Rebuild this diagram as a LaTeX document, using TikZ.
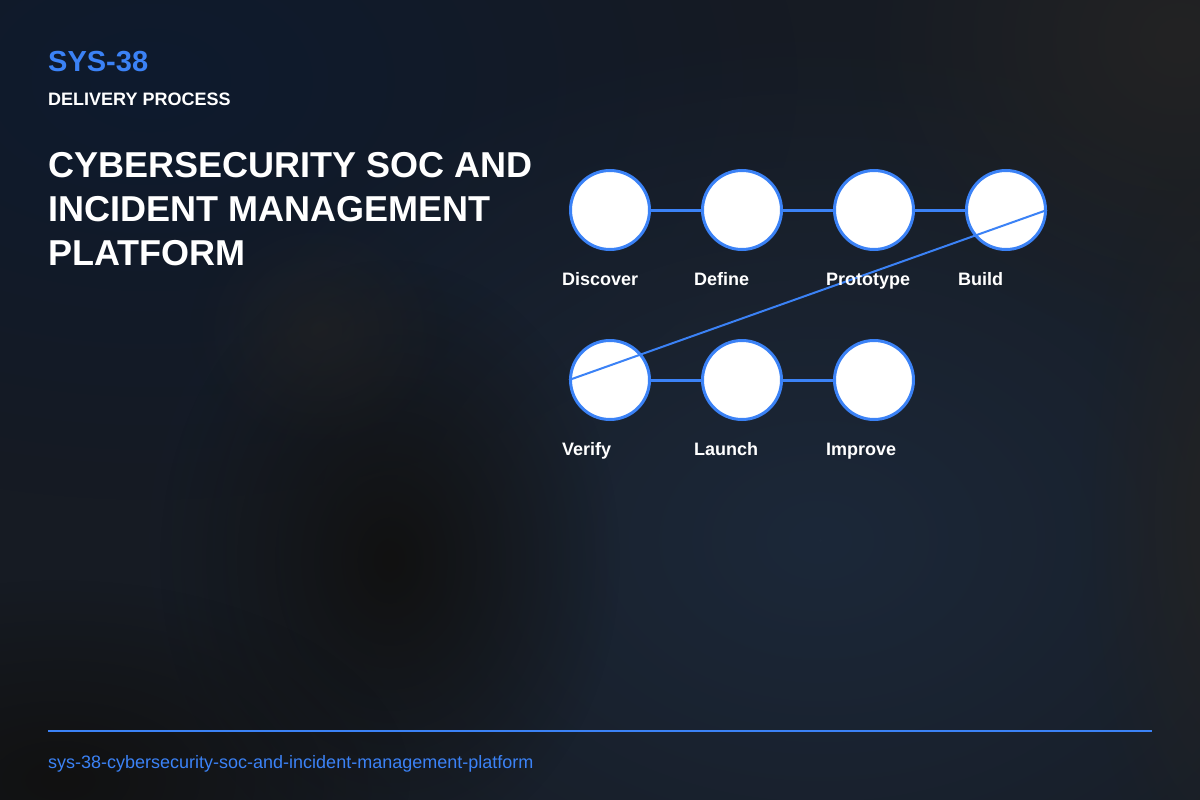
\documentclass[tikz,border=0pt]{standalone}
\usepackage{fontspec}
\setmainfont{Liberation Sans}
\usetikzlibrary{fadings}
\tikzfading[name=blobfade, inner color=transparent!0, outer color=transparent!100]
\definecolor{bg}{HTML}{161B23}
\definecolor{accent}{HTML}{3B82F6}
\definecolor{navy}{HTML}{0E1A2E}
\definecolor{midblue}{HTML}{1C2839}
\definecolor{darkblob}{HTML}{111111}
\definecolor{grayblob}{HTML}{232323}
\tikzset{
  stage/.style={circle, draw=accent, line width=3pt, fill=white, minimum size=79pt, inner sep=0pt},
  stagelabel/.style={anchor=base west, inner sep=0pt, text=white, font=\bfseries\fontsize{18}{21}\selectfont},
  link/.style={draw=accent, line width=3pt},
  jump/.style={draw=accent, line width=2pt},
  txt/.style={anchor=base west, inner sep=0pt}
}
\begin{document}
\begin{tikzpicture}[x=1pt,y=-1pt]
\useasboundingbox (0,0) rectangle (1200,800);
% background
\fill[bg] (0,0) rectangle (1200,800);
\begin{scope}
\clip (0,0) rectangle (1200,800);
\fill[navy, path fading=blobfade] (150,80) ellipse (650 and 420);
\fill[midblue, path fading=blobfade] (820,540) ellipse (700 and 520);
\fill[grayblob, path fading=blobfade] (1180,40) ellipse (330 and 300);
\fill[grayblob, path fading=blobfade] (1230,520) ellipse (150 and 400);
\fill[darkblob, path fading=blobfade] (390,560) ellipse (230 and 300);
\fill[darkblob, path fading=blobfade] (60,780) ellipse (350 and 200);
\fill[grayblob, opacity=0.6, path fading=blobfade] (320,330) ellipse (130 and 120);
\end{scope}

% header texts
\node[txt, text=accent, font=\bfseries\fontsize{29}{34}\selectfont] (code) at (48,72) {SYS-38};
\node[txt, text=white, font=\bfseries\fontsize{18}{21}\selectfont] (kind) at (48,105) {DELIVERY PROCESS};
\node[txt, text=white, font=\bfseries\fontsize{36}{43}\selectfont] (title1) at (48,177) {CYBERSECURITY SOC AND};
\node[txt, text=white, font=\bfseries\fontsize{36}{43}\selectfont] (title2) at (48,221) {INCIDENT MANAGEMENT};
\node[txt, text=white, font=\bfseries\fontsize{36}{43}\selectfont] (title3) at (48,265) {PLATFORM};

% stages
\node[stage] (s1) at (610,210) {};
\node[stage] (s2) at (742,210) {};
\node[stage] (s3) at (874,210) {};
\node[stage] (s4) at (1006,210) {};
\node[stage] (s5) at (610,380) {};
\node[stage] (s6) at (742,380) {};
\node[stage] (s7) at (874,380) {};

\draw[link] (s1) -- (s2);
\draw[link] (s2) -- (s3);
\draw[link] (s3) -- (s4);
\draw[link] (s5) -- (s6);
\draw[link] (s6) -- (s7);
\draw[jump] (s4.east) -- (s5.west);

\node[stagelabel] (l1) at (562,285) {Discover};
\node[stagelabel] (l2) at (694,285) {Define};
\node[stagelabel] (l3) at (826,285) {Prototype};
\node[stagelabel] (l4) at (958,285) {Build};
\node[stagelabel] (l5) at (562,455) {Verify};
\node[stagelabel] (l6) at (694,455) {Launch};
\node[stagelabel] (l7) at (826,455) {Improve};

% footer
\coordinate (fl) at (48,731);
\coordinate (fr) at (1152,731);
\draw[accent, line width=2pt] (fl) -- (fr);
\node[txt, text=accent, font=\fontsize{18}{21}\selectfont] (slug) at (48,768) {sys-38-cybersecurity-soc-and-incident-management-platform};
\end{tikzpicture}
\end{document}
